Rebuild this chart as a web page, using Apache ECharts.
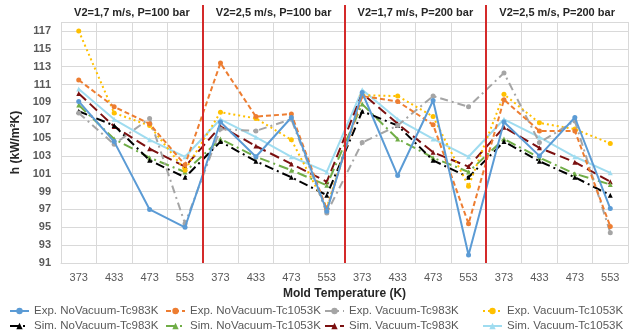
<!DOCTYPE html>
<html><head><meta charset="utf-8">
<script src="https://cdn.jsdelivr.net/npm/echarts@6/dist/echarts.min.js"></script>
<style>html,body{margin:0;padding:0;background:#fff}#c{width:638px;height:336px}</style>
</head><body><div id="c"></div>
<script>
const tempLabels = ['373','433','473','553'];
const panelTitles = ['V2=1,7 m/s, P=100 bar','V2=2,5 m/s, P=100 bar','V2=1,7 m/s, P=200 bar','V2=2,5 m/s, P=200 bar'];
const yTicks = {min: 91, max: 118, interval: 2};

const expNoVac983  = [109.1, 104.6, 97.0, 95.0, 106.8, 102.9, 107.3, 96.8, 110.1, 100.8, 109.2, 91.9, 106.8, 103.0, 107.3, 97.1];
const expNoVac1053 = [111.5, 108.5, 106.6, 102.0, 113.4, 107.4, 107.7, 97.0, 109.7, 109.1, 106.5, 95.4, 109.3, 105.8, 105.8, 95.1];
const expVac983    = [107.8, 104.3, 107.2, 95.4, 106.0, 105.8, 107.1, 96.6, 104.5, 106.4, 109.7, 108.5, 112.3, 104.5, 106.9, 94.4];
const expVac1053   = [117.0, 107.8, 106.4, 101.4, 107.9, 107.2, 104.8, 97.2, 109.8, 109.7, 107.4, 99.6, 109.9, 106.7, 106.0, 104.4];
const simNoVac983  = [108.0, 106.4, 102.5, 100.6, 104.6, 102.4, 100.6, 98.6, 108.0, 106.4, 102.5, 100.6, 104.6, 102.4, 100.6, 98.6];
const simNoVac1053 = [108.7, 104.9, 102.8, 101.2, 104.9, 102.9, 101.4, 99.7, 108.8, 104.9, 102.8, 101.2, 104.9, 102.8, 101.0, 99.8];
const simVac983    = [110.0, 106.3, 103.8, 101.8, 106.3, 104.1, 102.1, 100.1, 110.0, 106.6, 103.4, 101.8, 106.2, 103.9, 102.3, 100.1];
const simVac1053   = [110.5, 107.1, 104.8, 102.9, 107.1, 105.1, 102.9, 101.2, 110.4, 107.1, 104.9, 102.9, 107.1, 105.1, 102.9, 101.1];

const seriesNames = ['Exp. NoVacuum-Tc983K','Exp. NoVacuum-Tc1053K','Exp. Vacuum-Tc983K','Exp. Vacuum-Tc1053K',
                     'Sim. NoVacuum-Tc983K','Sim. NoVacuum-Tc1053K','Sim. Vacuum-Tc983K','Sim. Vacuum-Tc1053K'];
const seriesData = [expNoVac983, expNoVac1053, expVac983, expVac1053, simNoVac983, simNoVac1053, simVac983, simVac1053];

const categories = [];
panelTitles.forEach(() => tempLabels.forEach(t => categories.push(t)));

const styles = [
  {color:'#5B9BD5', type:'solid', symbol:'circle'},
  {color:'#ED7D31', type:[5,3], symbol:'circle'},
  {color:'#A5A5A5', type:[8,4,2,4], symbol:'circle'},
  {color:'#FFC000', type:[2,3], symbol:'circle'},
  {color:'#000000', type:[9,4,2,4], symbol:'triangle'},
  {color:'#70AD47', type:[10,4,2,4], symbol:'triangle'},
  {color:'#7B1010', type:[10,5], symbol:'triangle'},
  {color:'#9FDCF0', type:'solid', symbol:'triangle'}
];

const FONT = 'Liberation Sans';
const chart = echarts.init(document.getElementById('c'), null, {renderer:'canvas'});

const series = seriesData.map((d, i) => ({
  name: seriesNames[i], type: 'line', data: d, xAxisIndex: 0, yAxisIndex: 0,
  symbol: styles[i].symbol, symbolSize: 5,
  itemStyle: {color: styles[i].color},
  lineStyle: {color: styles[i].color, width: 2, type: styles[i].type},
  z: 10 - i, animation: false
}));

function legendCol(idx, left) {
  return {
    orient: 'vertical', left: left, top: 305, padding: 0, itemGap: 3, itemWidth: 19, itemHeight: 8,
    height: 40,
    data: [seriesNames[idx], seriesNames[idx+4]],
    textStyle: {fontFamily: FONT, fontSize: 11.5, lineHeight: 12, color: '#595959'}
  };
}

chart.setOption({
  animation: false,
  grid: {left: 61, right: 10, top: 22, bottom: 73, containLabel: false},
  legend: [legendCol(0, 9), legendCol(1, 165), legendCol(2, 324), legendCol(3, 482)],
  xAxis: [{
    type: 'category', data: categories, boundaryGap: true,
    name: 'Mold Temperature (K)', nameLocation: 'middle', nameGap: 25,
    nameTextStyle: {fontFamily: FONT, fontSize: 12, fontWeight: 'bold', color: '#262626'},
    axisLine: {show: true, lineStyle: {color: '#D9D9D9'}},
    axisTick: {show: false},
    axisLabel: {interval: 0, fontFamily: FONT, fontSize: 11, color: '#595959', margin: 9},
    splitLine: {show: true, lineStyle: {color: '#D9D9D9', width: 1}}
  }, {
    type: 'category', data: panelTitles, boundaryGap: true, position: 'top',
    axisLine: {show: false}, axisTick: {show: false},
    axisLabel: {interval: 0, fontFamily: FONT, fontSize: 11, fontWeight: 'bold', color: '#262626', margin: 4},
    splitLine: {show: false}
  }],
  yAxis: {
    type: 'value', min: yTicks.min, max: yTicks.max, interval: yTicks.interval,
    name: 'h (kW/m²K)', nameLocation: 'middle', nameGap: 37, nameRotate: 90,
    nameTextStyle: {fontFamily: FONT, fontSize: 12, fontWeight: 'bold', color: '#262626'},
    axisLine: {show: false}, axisTick: {show: false},
    axisLabel: {showMaxLabel: false, fontFamily: FONT, fontSize: 11, fontWeight: 'bold', color: '#595959', margin: 10},
    splitLine: {show: true, lineStyle: {color: '#D9D9D9', width: 1}}
  },
  series: series
});

// red panel separators at category boundaries, via the axis scale
const gridRect = chart.getModel().getComponent('grid').coordinateSystem.getRect();
const seps = [];
for (let p = 1; p < panelTitles.length; p++) {
  const k = p * tempLabels.length;
  const xa = chart.convertToPixel({xAxisIndex: 0}, k - 1);
  const xb = chart.convertToPixel({xAxisIndex: 0}, k);
  const x = Math.round((xa + xb) / 2);
  seps.push({type: 'line', z: 100,
    shape: {x1: x, y1: 5, x2: x, y2: gridRect.y + gridRect.height},
    style: {stroke: '#D42A2A', lineWidth: 2}});
}
chart.setOption({graphic: seps});
</script></body></html>
